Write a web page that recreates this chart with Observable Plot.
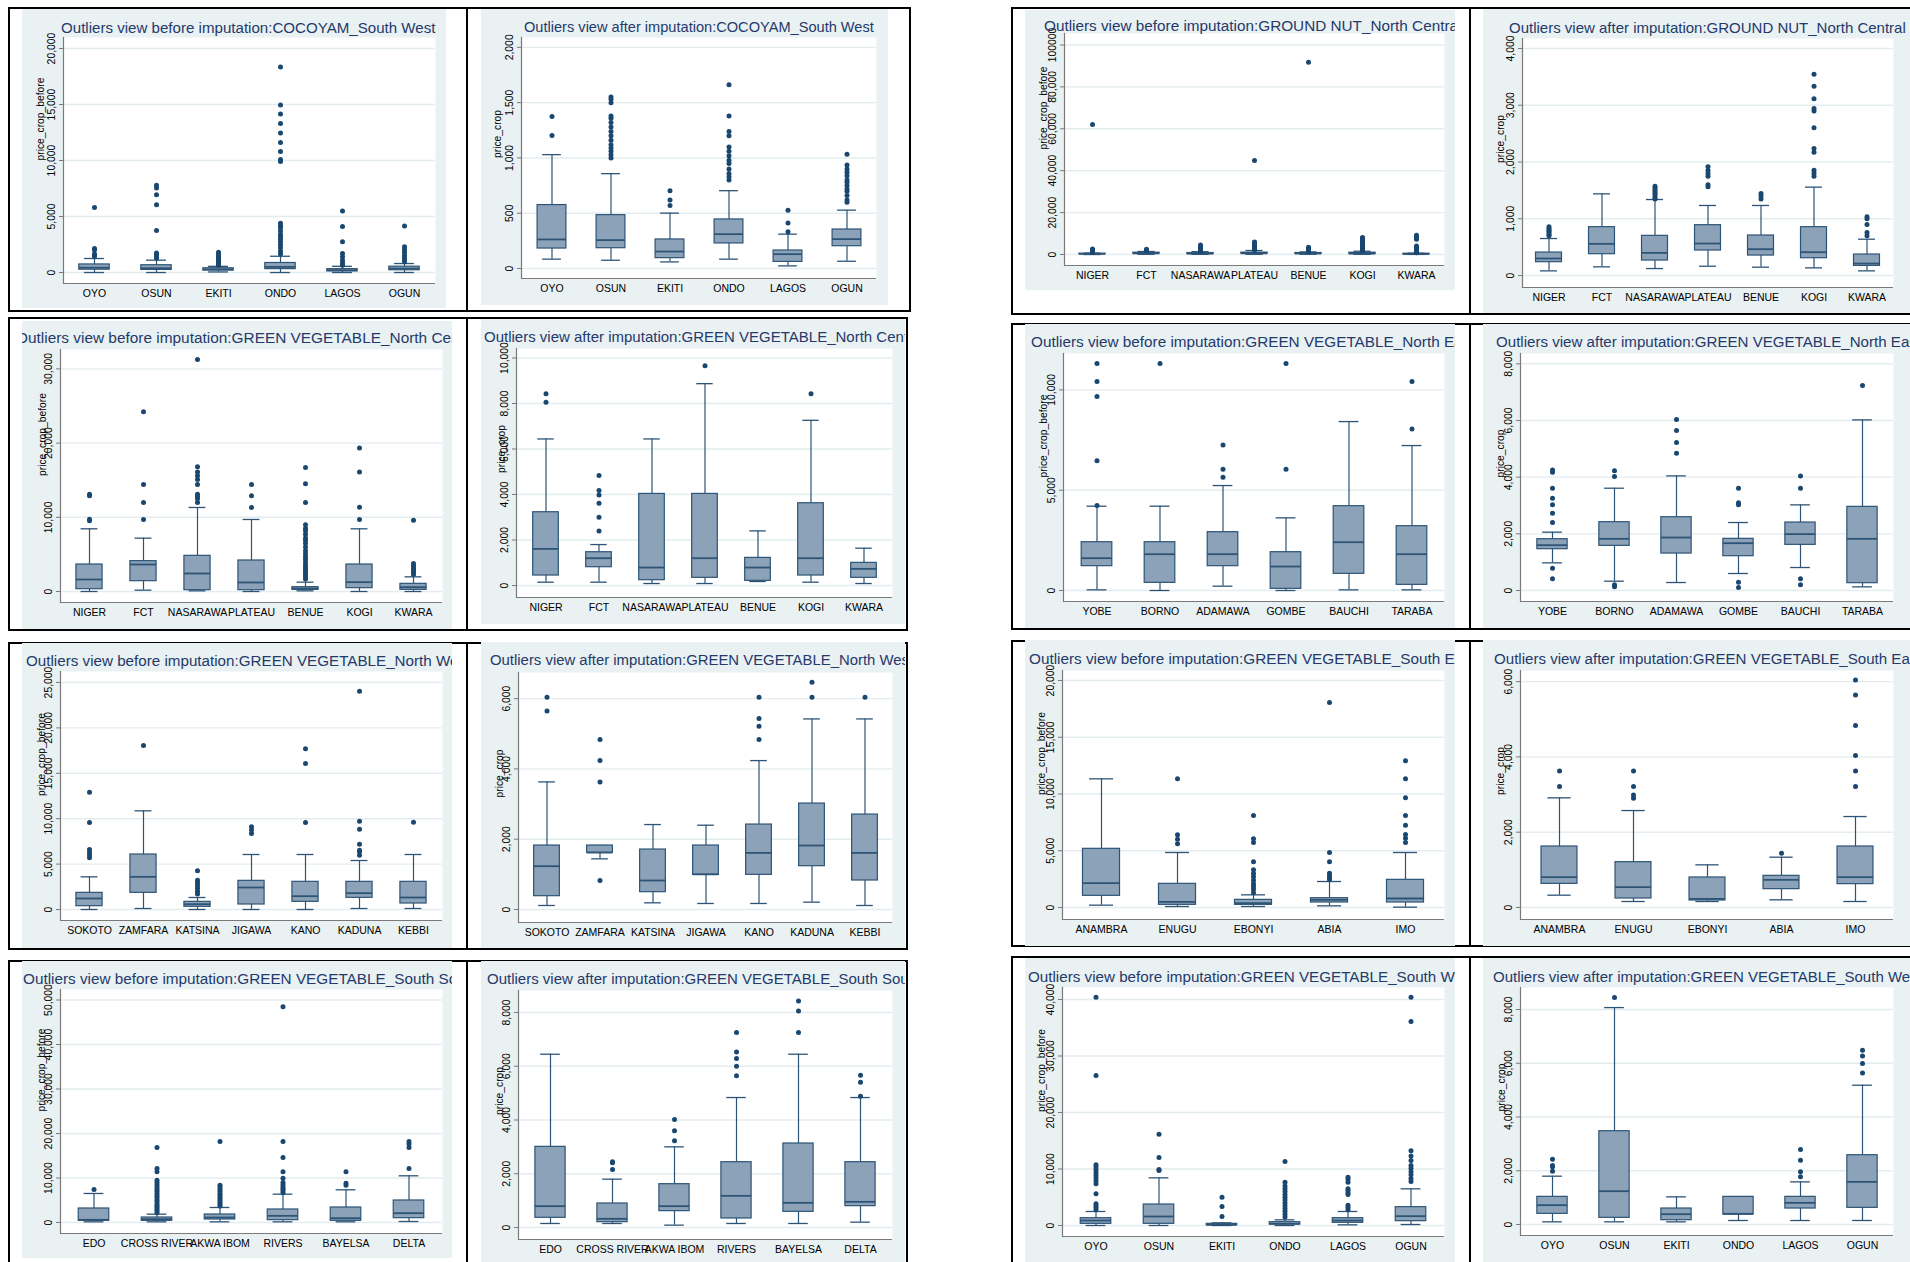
<!DOCTYPE html>
<html><head><meta charset="utf-8">
<script src="https://cdn.jsdelivr.net/npm/d3@7"></script>
<script src="https://cdn.jsdelivr.net/npm/@observablehq/plot@0.6"></script>
<style>
html,body{margin:0;padding:0;background:#fff}
body{width:1910px;height:1262px;overflow:hidden;position:relative;font-family:"Liberation Sans",Arial,sans-serif}
.cell{position:absolute;border:2px solid #000;box-sizing:border-box}
.div{position:absolute;background:#000;width:2px}
.bg{position:absolute;background:#e9f1f3;overflow:hidden}
.bg svg{position:absolute;left:0;top:0}
.title{position:absolute;white-space:nowrap;line-height:15px;color:#25396a;z-index:2}
</style></head>
<body>
<script>
// ---------- categories ----------
const SW = ["OYO","OSUN","EKITI","ONDO","LAGOS","OGUN"];
const NC = ["NIGER","FCT","NASARAWA","PLATEAU","BENUE","KOGI","KWARA"];
const NE = ["YOBE","BORNO","ADAMAWA","GOMBE","BAUCHI","TARABA"];
const NW = ["SOKOTO","ZAMFARA","KATSINA","JIGAWA","KANO","KADUNA","KEBBI"];
const SE = ["ANAMBRA","ENUGU","EBONYI","ABIA","IMO"];
const SS = ["EDO","CROSS RIVER","AKWA IBOM","RIVERS","BAYELSA","DELTA"];

const titles = [
  "Outliers view before imputation:COCOYAM_South West",
  "Outliers view after imputation:COCOYAM_South West",
  "Outliers view before imputation:GROUND NUT_North Central",
  "Outliers view after imputation:GROUND NUT_North Central",
  "Outliers view before imputation:GREEN VEGETABLE_North Central",
  "Outliers view after imputation:GREEN VEGETABLE_North Central",
  "Outliers view before imputation:GREEN VEGETABLE_North East",
  "Outliers view after imputation:GREEN VEGETABLE_North East",
  "Outliers view before imputation:GREEN VEGETABLE_North West",
  "Outliers view after imputation:GREEN VEGETABLE_North West",
  "Outliers view before imputation:GREEN VEGETABLE_South East",
  "Outliers view after imputation:GREEN VEGETABLE_South East",
  "Outliers view before imputation:GREEN VEGETABLE_South South",
  "Outliers view after imputation:GREEN VEGETABLE_South South",
  "Outliers view before imputation:GREEN VEGETABLE_South West",
  "Outliers view after imputation:GREEN VEGETABLE_South West"
];
const yLabels = ["price_crop_before","price_crop"];

// ---------- y ticks ----------
const ticks1 = [0,5000,10000,15000,20000];
const ticks2 = [0,500,1000,1500,2000];
const ticks3 = [0,20000,40000,60000,80000,100000];
const ticks3Labels = ["0","20,000","40,000","60,000","80,000","100000"];
const ticks4 = [0,1000,2000,3000,4000];
const ticks5 = [0,10000,20000,30000];
const ticks6 = [0,2000,4000,6000,8000,10000];
const ticks7 = [0,5000,10000];
const ticks8 = [0,2000,4000,6000,8000];
const ticks9 = [0,5000,10000,15000,20000,25000];
const ticks10 = [0,2000,4000,6000];
const ticks11 = [0,5000,10000,15000,20000];
const ticks12 = [0,2000,4000,6000];
const ticks13 = [0,10000,20000,30000,40000,50000];
const ticks14 = [0,2000,4000,6000,8000];
const ticks15 = [0,10000,20000,30000,40000];
const ticks16 = [0,2000,4000,6000,8000];

// ---------- P1 COCOYAM South West, before ----------
const p1_lo  = [0,0,50,0,0,0];
const p1_q1  = [250,230,180,300,100,200];
const p1_med = [430,380,270,500,200,350];
const p1_q3  = [720,650,380,850,300,520];
const p1_hi  = [1250,1100,550,1450,550,800];
const p1_out = [
  [1450,1550,1650,2000,2150,5800],
  [1300,1450,1600,1750,3750,6050,6950,7550,7800],
  [650,750,850,950,1050,1150,1250,1350,1450,1600,1800],
  [1650,1900,2200,2500,2750,3000,3200,3400,3700,4000,4200,4400,9900,10100,10800,11600,12450,13300,14150,14950,18350],
  [650,850,1100,1400,1700,2750,4100,5500],
  [950,1150,1350,1550,1800,2050,2300,4150]
];
// ---------- P2 COCOYAM South West, after ----------
const p2_lo  = [85,75,60,85,24,66];
const p2_q1  = [181,184,94,227,60,202];
const p2_med = [263,257,154,311,130,266];
const p2_q3  = [574,483,263,444,163,353];
const p2_hi  = [1030,858,501,704,311,528];
const p2_out = [
  [1202,1374],
  [1000,1030,1060,1090,1120,1160,1200,1240,1280,1320,1360,1380,1500,1530,1550],
  [570,620,704],
  [800,830,860,900,950,980,1020,1060,1100,1200,1240,1380,1661],
  [332,411,528],
  [600,620,660,700,720,750,780,800,840,870,900,936,1033]
];
// ---------- P3 GROUND NUT North Central, before ----------
const p3_lo  = [0,100,80,100,100,100,50];
const p3_q1  = [235,376,264,441,352,305,170];
const p3_med = [300,558,400,564,464,411,211];
const p3_q3  = [405,852,700,887,705,852,370];
const p3_hi  = [650,1440,1340,1900,1234,1557,640];
const p3_out = [
  [900,1300,1700,2100,2600,62000],
  [1700,2100,2500],
  [1600,2000,2400,2900,3400,3900,4500],
  [2200,2700,3200,3700,4200,4700,5200,5700,6000,44900],
  [1500,1900,2300,2700,3100,3500,91800],
  [1800,2300,2800,3300,3800,4300,4800,5300,5800,6300,6800,7300,7800,8100],
  [800,1200,1600,2000,2400,2800,3200,3600,4000,7300,7900,8500,9200]
];
// ---------- P4 GROUND NUT North Central, after ----------
const p4_lo  = [82,153,123,164,147,135,82];
const p4_q1  = [235,376,264,441,352,305,170];
const p4_med = [300,558,399,564,464,411,211];
const p4_q3  = [405,852,699,887,705,852,370];
const p4_hi  = [652,1439,1339,1234,1234,1557,640];
const p4_out = [
  [700,720,750,780,800,830,858],
  [],
  [1350,1380,1420,1450,1480,1510,1540,1574],
  [1562,1600,1750,1797,1850,1915],
  [1350,1400,1445],
  [1750,1800,1856,2173,2238,2602,2900,2943,3113,3336,3548],
  [700,758,899,1000,1034]
];
// ---------- P5 GREEN VEGETABLE North Central, before ----------
const p5_lo  = [0,180,90,0,90,0,0];
const p5_q1  = [315,1393,180,180,225,449,225];
const p5_med = [1618,3640,2427,1213,404,1258,584];
const p5_q3  = [3640,4090,4809,4179,584,3640,1034];
const p5_hi  = [8450,7190,11325,9707,1258,8450,1977];
const p5_out = [
  [9527,9750,12900,13100],
  [9707,12000,14426,24222],
  [12000,12500,12800,13100,14426,15100,15600,16100,16800,31280],
  [11325,12900,14426],
  [1700,2000,2300,2600,2900,3200,3500,3900,4300,4700,5100,5500,6000,6500,6900,7200,7700,8200,8500,8988,12000,14516,16717],
  [9707,11370,16089,19324],
  [2300,2600,2900,3150,3450,3775,9617]
];
// ---------- P6 GREEN VEGETABLE North Central, after ----------
const p6_lo  = [146,146,88,88,176,146,88];
const p6_q1  = [439,805,234,337,205,439,337];
const p6_med = [1610,1200,790,1200,790,1200,732];
const p6_q3  = [3221,1464,4026,4026,1215,3616,996];
const p6_hi  = [6442,1800,6442,8872,2401,7261,1640];
const p6_out = [[8052,8433],[2401,3001,3616,3982,4172,4831],[],[9662],[],[8433],[]];
// ---------- P7 GREEN VEGETABLE North East, before ----------
const p7_lo  = [33,0,216,0,33,33];
const p7_q1  = [1213,382,1213,83,831,282];
const p7_med = [1611,1810,1810,1196,2408,1810];
const p7_q3  = [2408,2408,2907,1910,4203,3206];
const p7_hi  = [4203,4203,5232,3621,8421,7225];
const p7_out = [[4236,6462,9667,10415,11311],[11311],[5647,6046,7259],[6046,11311],[],[8056,10415]];
// ---------- P8 GREEN VEGETABLE North East, after ----------
const p8_lo  = [976,329,282,600,811,129];
const p8_q1  = [1458,1576,1305,1211,1611,259];
const p8_med = [1600,1823,1870,1670,1990,1823];
const p8_q3  = [1811,2411,2587,1823,2399,2952];
const p8_hi  = [2058,3610,4045,2399,3022,6021];
const p8_out = [
  [412,788,2399,2728,3022,3258,3610,4175,4250],
  [129,200,4022,4222],
  [4845,5221,5645,6033],
  [106,294,3022,3100,3610],
  [200,412,3610,4045],
  [7232]
];
// ---------- P9 GREEN VEGETABLE North West, before ----------
const p9_lo  = [0,110,0,0,0,110,110];
const p9_q1  = [367,1835,294,551,844,1285,661];
const p9_med = [1211,3598,587,2423,1468,1799,1322];
const p9_q3  = [1835,6057,844,3157,3047,3047,3047];
const p9_hi  = [3598,10866,1322,6057,6057,5396,6057];
const p9_out = [
  [5690,6000,6300,6608,9581,12922],
  [18061],
  [1700,2019,2350,2643,2950,3230,4258],
  [8370,8750,9104],
  [9581,16079,17694],
  [5984,6351,6534,7195,8847,9728,24045],
  [9618]
];
// ---------- P10 GREEN VEGETABLE North West, after ----------
const p10_lo  = [114,1441,190,171,171,209,114];
const p10_q1  = [379,1611,493,986,986,1232,825];
const p10_med = [1232,1620,825,1000,1611,1820,1611];
const p10_q3  = [1820,1820,1706,1820,2417,3014,2701];
const p10_hi  = [3630,1820,2417,2398,4237,5422,5422];
const p10_out = [[5650,6038],[825,3630,4237,4834],[],[],[4834,5213,5431,6038],[6038,6465],[6038]];
// ---------- P11 GREEN VEGETABLE South East, before ----------
const p11_lo  = [206,88,88,147,29];
const p11_q1  = [1028,235,235,441,441];
const p11_med = [2144,499,382,675,793];
const p11_q3  = [5169,2085,675,822,2438];
const p11_hi  = [11336,4846,1116,2290,4846];
const p11_out = [
  [],
  [5610,6021,6403,11336],
  [1300,1600,1850,2100,2400,2700,3000,3319,4024,5727,6050,8106],
  [2450,2600,2800,3025,4024,4846,18063],
  [5727,6100,6432,7254,8106,9663,11336,12923]
];
// ---------- P12 GREEN VEGETABLE South East, after ----------
const p12_lo  = [327,159,159,204,159];
const p12_q1  = [628,239,186,487,620];
const p12_med = [805,540,230,735,805];
const p12_q3  = [1620,1204,797,841,1620];
const p12_hi  = [2912,2575,1133,1336,2416];
const p12_out = [[3212,3628],[2903,2991,3212,3628],[],[1443],[3212,3628,4036,4832,5646,6045]];
// ---------- P13 GREEN VEGETABLE South South, before ----------
const p13_lo  = [150,150,150,150,150,225];
const p13_q1  = [375,375,675,525,375,975];
const p13_med = [600,750,1124,1499,975,2099];
const p13_q3  = [3148,1124,1799,2923,3373,4947];
const p13_hi  = [6522,1874,3373,6372,7346,10494];
const p13_out = [
  [7421],
  [2200,2600,3000,3400,3800,4200,4700,5100,5600,6000,6500,7000,7500,8000,8500,9000,9520,11394,12143,16866],
  [3700,4100,4500,4900,5300,5700,6100,6500,7000,7500,8000,8396,18215],
  [6700,7200,7600,8000,8500,9000,9970,11394,14617,18215,48500],
  [8396,8845,11394],
  [12143,16866,17616,18215]
];
// ---------- P14 GREEN VEGETABLE South South, after ----------
const p14_lo  = [149,149,87,149,149,198];
const p14_q1  = [360,198,608,335,583,794];
const p14_med = [794,322,794,1178,918,955];
const p14_q3  = [3001,893,1612,2430,3125,2430];
const p14_hi  = [6448,1798,3001,4836,6448,4836];
const p14_out = [[],[2158,2406,2450],[3224,3596,4018],[5642,6002,6287,6535,7254],[7254,8060,8432],[4886,5406,5667]];
// ---------- P15 GREEN VEGETABLE South West, before ----------
const p15_lo  = [0,0,0,0,118,177];
const p15_q1  = [295,295,59,177,472,767];
const p15_med = [885,1593,118,295,885,1652];
const p15_q3  = [1298,3717,295,590,1298,3245];
const p15_hi  = [2478,8437,472,1003,2478,6490];
const p15_out = [
  [2800,3200,3500,3835,5605,7375,7900,8400,8900,9400,9900,10400,10738,26550,40415],
  [9735,9900,12036,16166],
  [1593,3363,5015],
  [1500,2000,2500,3000,3500,4000,4500,5000,5500,6000,6500,7000,7670,11328],
  [2800,3200,3600,5500,5800,6200,6500,7670,8200,8555],
  [7788,8300,9000,9500,10100,10620,11500,12300,13216,36108,40415]
];
// ---------- P16 GREEN VEGETABLE South West, after ----------
const p16_lo  = [99,99,99,149,149,149];
const p16_q1  = [397,248,161,372,595,620];
const p16_med = [719,1240,384,397,806,1587];
const p16_q3  = [1029,3472,595,1029,1029,2579];
const p16_hi  = [1798,8072,1029,1029,1587,5183];
const p16_out = [[1984,2145,2200,2430],[8444],[],[],[1773,1959,2393,2790],[5642,5989,6274,6485]];

// ---------- layout (page pixels): background box, plot frame, title pos & size, y-label offset, y domain ----------
const layout = [
  {bg:[22,9,424,299],   plot:[63,37,435,283],     title:[61,32,15.1],    yl:23, dom:[-982,20982]},
  {bg:[481,9,407,296],  plot:[521,37,876,278],    title:[524,32,14.6],   yl:24, dom:[-90,2089]},
  {bg:[1025,10,430,280],plot:[1064,33,1444,265],  title:[1044,30,15.3],  yl:21, dom:[-5251,105489]},
  {bg:[1483,9,427,304], plot:[1522,38,1893,287],  title:[1509,32,15.0],  yl:22, dom:[-211,4176]},
  {bg:[22,321,430,308], plot:[60,349,442,602],    title:[16,342,15.4],   yl:18, dom:[-1482,32615]},
  {bg:[481,319,424,305],plot:[516,348,892,597],   title:[484,341,15.0],  yl:15, dom:[-527,10418]},
  {bg:[1025,324,430,304],plot:[1063,353,1444,601],title:[1031,346,15.3], yl:20, dom:[-548,11814]},
  {bg:[1483,324,427,304],plot:[1520,353,1893,601],title:[1496,346,15.1], yl:20, dom:[-388,8364]},
  {bg:[22,643,430,305], plot:[60,671,442,920],    title:[26,665,15.2],   yl:19, dom:[-1211,26211]},
  {bg:[481,642,424,306],plot:[518,672,892,922],   title:[490,665,14.9],  yl:19, dom:[-370,6743]},
  {bg:[1025,640,430,306],plot:[1062,670,1444,919],title:[1029,663,15.3], yl:21, dom:[-1057,20881]},
  {bg:[1483,640,427,306],plot:[1520,670,1893,919],title:[1494,663,15.1], yl:20, dom:[-319,6295]},
  {bg:[22,961,430,297], plot:[60,989,442,1233],   title:[23,983,15.3],   yl:19, dom:[-2472,52360]},
  {bg:[481,961,424,301],plot:[518,990,892,1239],  title:[487,983,15.0],  yl:19, dom:[-447,8819]},
  {bg:[1025,958,430,304],plot:[1062,987,1444,1236],title:[1028,981,15.2],yl:21, dom:[-1947,42124]},
  {bg:[1483,958,427,304],plot:[1520,987,1893,1235],title:[1493,981,15.0],yl:19, dom:[-409,8819]}
];
// cell borders: [left, top, width, height, dividerX]
const cells = [
  [8,7,903,305,466],[8,317,900,314,466],[8,642,900,308,466],[8,960,900,310,466],
  [1011,7,1000,308,1469],[1011,323,1000,307,1469],[1011,640,1000,307,1469],[1011,956,1000,314,1469]
];

const panels = [
  {cats:SW, lo:p1_lo, q1:p1_q1, med:p1_med, q3:p1_q3, hi:p1_hi, out:p1_out, ticks:ticks1},
  {cats:SW, lo:p2_lo, q1:p2_q1, med:p2_med, q3:p2_q3, hi:p2_hi, out:p2_out, ticks:ticks2},
  {cats:NC, lo:p3_lo, q1:p3_q1, med:p3_med, q3:p3_q3, hi:p3_hi, out:p3_out, ticks:ticks3, tickLabels:ticks3Labels},
  {cats:NC, lo:p4_lo, q1:p4_q1, med:p4_med, q3:p4_q3, hi:p4_hi, out:p4_out, ticks:ticks4},
  {cats:NC, lo:p5_lo, q1:p5_q1, med:p5_med, q3:p5_q3, hi:p5_hi, out:p5_out, ticks:ticks5},
  {cats:NC, lo:p6_lo, q1:p6_q1, med:p6_med, q3:p6_q3, hi:p6_hi, out:p6_out, ticks:ticks6},
  {cats:NE, lo:p7_lo, q1:p7_q1, med:p7_med, q3:p7_q3, hi:p7_hi, out:p7_out, ticks:ticks7},
  {cats:NE, lo:p8_lo, q1:p8_q1, med:p8_med, q3:p8_q3, hi:p8_hi, out:p8_out, ticks:ticks8},
  {cats:NW, lo:p9_lo, q1:p9_q1, med:p9_med, q3:p9_q3, hi:p9_hi, out:p9_out, ticks:ticks9},
  {cats:NW, lo:p10_lo, q1:p10_q1, med:p10_med, q3:p10_q3, hi:p10_hi, out:p10_out, ticks:ticks10},
  {cats:SE, lo:p11_lo, q1:p11_q1, med:p11_med, q3:p11_q3, hi:p11_hi, out:p11_out, ticks:ticks11},
  {cats:SE, lo:p12_lo, q1:p12_q1, med:p12_med, q3:p12_q3, hi:p12_hi, out:p12_out, ticks:ticks12},
  {cats:SS, lo:p13_lo, q1:p13_q1, med:p13_med, q3:p13_q3, hi:p13_hi, out:p13_out, ticks:ticks13},
  {cats:SS, lo:p14_lo, q1:p14_q1, med:p14_med, q3:p14_q3, hi:p14_hi, out:p14_out, ticks:ticks14},
  {cats:SW, lo:p15_lo, q1:p15_q1, med:p15_med, q3:p15_q3, hi:p15_hi, out:p15_out, ticks:ticks15},
  {cats:SW, lo:p16_lo, q1:p16_q1, med:p16_med, q3:p16_q3, hi:p16_hi, out:p16_out, ticks:ticks16}
];

const NAVY = "#1a476f", LINE = "#2d5476", FILL = "#8ca2b8", GRID = "#e3ecef", AXIS = "#7a7a7a";
const FONT = "'Liberation Sans', Arial, sans-serif";
const comma = d3.format(",");

function makePanel(p, L, idx) {
  const [bx, by, bw, bh] = L.bg;
  const [pl, pt, pr, pb] = L.plot;
  const mL = pl - bx, mT = pt - by, mR = (bx + bw) - pr, mB = (by + bh) - pb;
  const rows = p.cats.map((c, i) => ({c, lo: p.lo[i], q1: p.q1[i], med: p.med[i], q3: p.q3[i], hi: p.hi[i]}));
  const pts = p.cats.flatMap((c, i) => p.out[i].map(v => ({c, v})));
  const step = (pr - pl) / p.cats.length;
  const boxIn = step * 0.255, capIn = step * 0.34;
  const labMap = new Map(p.ticks.map((t, i) => [t, p.tickLabels ? p.tickLabels[i] : comma(t)]));
  const ylab = yLabels[idx % 2];
  return Plot.plot({
    width: bw, height: bh,
    marginLeft: mL, marginTop: mT, marginRight: mR, marginBottom: mB,
    style: {background: "transparent", fontFamily: FONT, fontSize: "10.4px", color: "#000", overflow: "visible"},
    x: {type: "band", domain: p.cats, padding: 0, label: null},
    y: {domain: L.dom, label: null},
    marks: [
      Plot.frame({fill: "white", stroke: null}),
      Plot.gridY(p.ticks, {stroke: GRID, strokeOpacity: 1, strokeWidth: 1.4}),
      Plot.ruleX(rows, {x: "c", y1: "lo", y2: "q1", stroke: LINE, strokeWidth: 1.2}),
      Plot.ruleX(rows, {x: "c", y1: "q3", y2: "hi", stroke: LINE, strokeWidth: 1.2}),
      Plot.tickY(rows, {x: "c", y: "lo", stroke: LINE, strokeWidth: 1.3, insetLeft: capIn, insetRight: capIn}),
      Plot.tickY(rows, {x: "c", y: "hi", stroke: LINE, strokeWidth: 1.3, insetLeft: capIn, insetRight: capIn}),
      Plot.barY(rows, {x: "c", y1: "q1", y2: "q3", fill: FILL, stroke: LINE, strokeWidth: 1.2, insetLeft: boxIn, insetRight: boxIn}),
      Plot.tickY(rows, {x: "c", y: "med", stroke: LINE, strokeWidth: 1.8, insetLeft: boxIn, insetRight: boxIn}),
      Plot.dot(pts, {x: "c", y: "v", r: 2.5, fill: NAVY, stroke: null}),
      Plot.ruleY([L.dom[0]], {stroke: AXIS, strokeWidth: 1.2}),
      Plot.frame({anchor: "left", stroke: AXIS, strokeWidth: 1.2}),
      Plot.axisY(p.ticks, {tickSize: 4, tickPadding: 5, tickRotate: -90, stroke: AXIS, fill: "#000",
        tickFormat: d => labMap.get(d), label: null, fontSize: 10.4}),
      Plot.axisX({tickSize: 0, tickPadding: 6, label: null, fill: "#000", fontSize: 10.5}),
      Plot.text([ylab], {text: d => d, frameAnchor: "left", dx: -L.yl, rotate: -90, fontSize: 10.3, fill: "#000"})
    ]
  });
}

for (const c of cells) {
  const d = document.createElement("div");
  d.className = "cell";
  Object.assign(d.style, {left: c[0] + "px", top: c[1] + "px", width: c[2] + "px", height: c[3] + "px"});
  document.body.appendChild(d);
  const v = document.createElement("div");
  v.className = "div";
  Object.assign(v.style, {left: c[4] + "px", top: c[1] + "px", height: c[3] + "px"});
  document.body.appendChild(v);
}

panels.forEach((p, i) => {
  const L = layout[i];
  const bg = document.createElement("div");
  bg.className = "bg";
  Object.assign(bg.style, {left: L.bg[0] + "px", top: L.bg[1] + "px", width: L.bg[2] + "px", height: L.bg[3] + "px"});
  const t = document.createElement("div");
  t.className = "title";
  t.textContent = titles[i];
  Object.assign(t.style, {left: (L.title[0] - L.bg[0]) + "px", top: (L.title[1] - L.bg[1] - 12.5) + "px", fontSize: L.title[2] + "px"});
  bg.appendChild(makePanel(p, L, i));
  bg.appendChild(t);
  document.body.appendChild(bg);
});
</script>
</body></html>
